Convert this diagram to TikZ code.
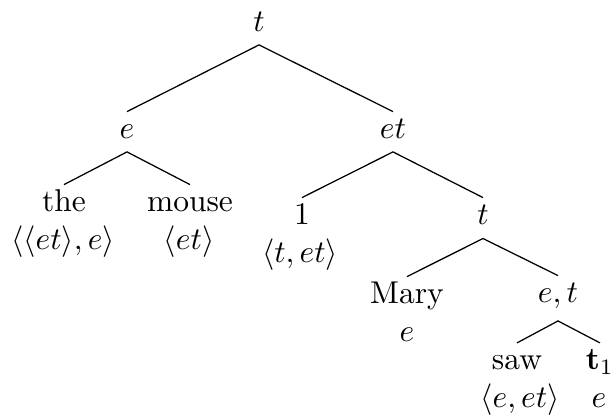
\documentclass[tikz,border=0pt]{standalone}
\begin{document}
\begin{tikzpicture}[x=0.3175pt,y=-0.3175pt,
  lbl/.style={anchor=base,inner sep=0pt},
  edge/.style={line width=0.4pt}]
\useasboundingbox (0,0) rectangle (615,415);
% level 0
\node[lbl] (root) at (259,32) {$t$};
% level 1
\node[lbl] (e) at (127,139) {$e$};
\node[lbl] (et) at (393,139) {$et$};
% level 2 (left)
\node[lbl] (the) at (64,212) {the};
\node[lbl] (theT) at (63,250) {$\langle\langle et\rangle,e\rangle$};
\node[lbl] (mouse) at (190,212) {mouse};
\node[lbl] (mouseT) at (189,250) {$\langle et\rangle$};
% level 2 (right)
\node[lbl] (one) at (302,225) {1};
\node[lbl] (oneT) at (300,263) {$\langle t,et\rangle$};
\node[lbl] (t2) at (483,225) {$t$};
% level 3
\node[lbl] (mary) at (407,304) {Mary};
\node[lbl] (maryT) at (407,342) {$e$};
\node[lbl] (et2) at (558,303) {$e,t$};
% level 4
\node[lbl] (saw) at (517,370) {saw};
\node[lbl] (sawT) at (520,408) {$\langle e,et\rangle$};
\node[lbl] (t1) at (600,370) {$\mathbf{t}_1$};
\node[lbl] (t1T) at (599,408) {$e$};
% edges
\draw[edge] ([yshift=8.7pt]e.base) -- ([yshift=-4.1pt]root.base) -- ([yshift=8.7pt]et.base);
\draw[edge] ([yshift=8.7pt]the.base) -- ([yshift=-4.1pt]e.base) -- ([yshift=8.7pt]mouse.base);
\draw[edge] ([yshift=8.7pt]one.base) -- ([yshift=-4.1pt]et.base) -- ([yshift=8.7pt]t2.base);
\draw[edge] ([yshift=8.7pt]mary.base) -- ([yshift=-4.3pt]t2.base) -- ([yshift=8.7pt]et2.base);
\draw[edge] ([yshift=8.6pt]saw.base) -- ([yshift=-5.7pt]et2.base) -- ([yshift=8.6pt]t1.base);
\end{tikzpicture}
\end{document}
